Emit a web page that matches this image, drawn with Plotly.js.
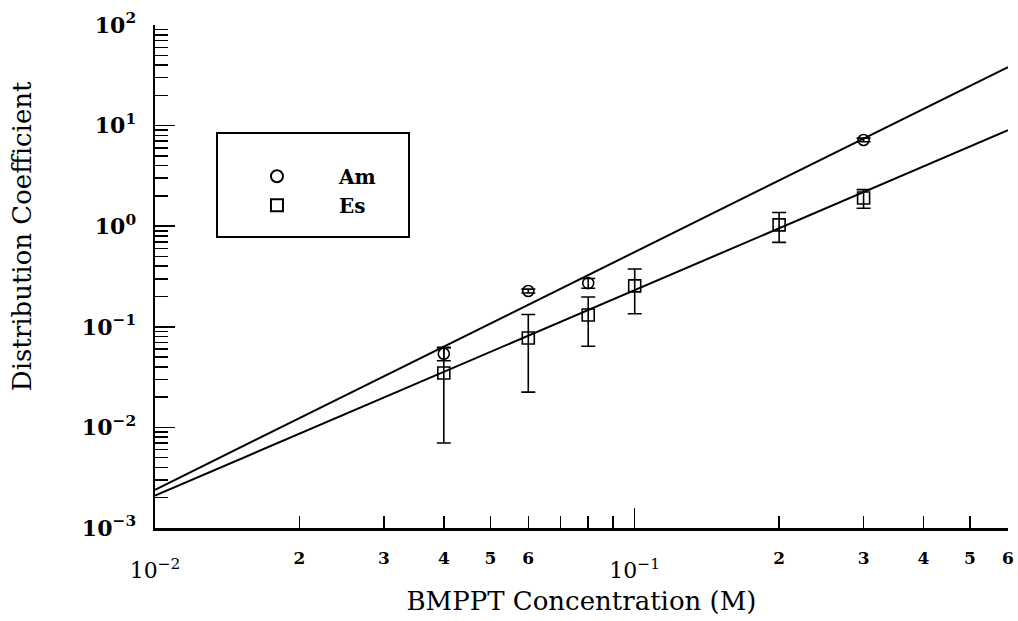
<!DOCTYPE html>
<html>
<head>
<meta charset="utf-8">
<script src="https://cdn.plot.ly/plotly-3.0.1.min.js"></script>
<style>html,body{margin:0;padding:0;background:#fff;}#chart{width:1018px;height:621px;}</style>
</head>
<body>
<div id="chart"></div>
<script>
// ---- data ----
const amX = [0.04, 0.06, 0.08, 0.3];
const amY = [0.054, 0.227, 0.272, 7.2];
const amErr = [0.008, 0.01, 0.03, 0.3];

const esX = [0.04, 0.06, 0.08, 0.1, 0.2, 0.3];
const esY = [0.0347, 0.0774, 0.131, 0.255, 1.03, 1.91];
const esErr = [0.0277, 0.055, 0.067, 0.12, 0.34, 0.4];

const fitX = [0.01, 0.6];
const amFit = [0.0024, 38.2];
const esFit = [0.0021, 9.0];

const xMinorLabelVals = [0.02, 0.03, 0.04, 0.05, 0.06, 0.2, 0.3, 0.4, 0.5, 0.6];
const xMinorLabelText = ['2', '3', '4', '5', '6', '2', '3', '4', '5', '6'];
const xMinorTickVals = [0.07, 0.08, 0.09];
const xDecadeVals = [0.01, 0.1];
const xDecadeText = ['10<sup>\u22122</sup>', '10<sup>\u22121</sup>'];
const yDecadeVals = [1e-3, 1e-2, 1e-1, 1, 10, 100];
const yDecadeText = ['10<sup>\u22123</sup>', '10<sup>\u22122</sup>', '10<sup>\u22121</sup>', '10<sup>0</sup>', '10<sup>1</sup>', '10<sup>2</sup>'];
const yMinorVals = [];
[1e-3, 1e-2, 1e-1, 1, 10].forEach(d => { for (let k = 2; k <= 9; k++) yMinorVals.push(+(d * k).toPrecision(3)); });

const xTitle = 'BMPPT Concentration (M)';
const yTitle = 'Distribution Coefficient';

const FONT = 'DejaVu Serif';

const traces = [
  {
    x: fitX, y: amFit, xaxis: 'x2', yaxis: 'y', mode: 'lines', showlegend: false,
    line: {color: '#000', width: 2}, hoverinfo: 'skip'
  },
  {
    x: fitX, y: esFit, xaxis: 'x2', yaxis: 'y', mode: 'lines', showlegend: false,
    line: {color: '#000', width: 2}, hoverinfo: 'skip'
  },
  {
    x: amX, y: amY, name: 'Am', mode: 'markers',
    marker: {symbol: 'circle-open', size: 11, color: '#000', line: {width: 1.6, color: '#000'}},
    error_y: {type: 'data', array: amErr, visible: true, color: '#000', thickness: 1.6, width: 7}
  },
  {
    x: esX, y: esY, name: 'Es', mode: 'markers',
    marker: {symbol: 'square-open', size: 12, color: '#000', line: {width: 1.6, color: '#000'}},
    error_y: {type: 'data', array: esErr, visible: true, color: '#000', thickness: 1.6, width: 7}
  }
];

const layout = {
  width: 1018, height: 621,
  margin: {l: 155, r: 10, t: 25, b: 93},
  paper_bgcolor: '#fff', plot_bgcolor: '#fff',
  showlegend: true,
  legend: {
    x: 0.0703, y: 0.738, xanchor: 'left', yanchor: 'top',
    bgcolor: 'rgba(0,0,0,0)', borderwidth: 0,
    itemwidth: 114, tracegroupgap: 0, itemsizing: 'constant',
    font: {family: FONT, size: 20, color: '#000', weight: 'bold'}
  },
  xaxis: {
    type: 'log', range: [Math.log10(0.01), Math.log10(0.6)],
    showline: true, linecolor: '#000', linewidth: 2.5, mirror: false,
    showgrid: false, zeroline: false,
    tickmode: 'array', tickvals: xMinorLabelVals, ticktext: xMinorLabelText,
    ticks: 'inside', ticklen: 12, tickwidth: 1.5, tickcolor: '#000',
    ticklabelstandoff: 13,
    tickfont: {family: FONT, size: 17, color: '#000', weight: 'bold'},
    minor: {tickmode: 'array', tickvals: xMinorTickVals, ticks: 'inside', ticklen: 12, tickwidth: 1.5, tickcolor: '#000', showgrid: false},
    title: {text: xTitle, font: {family: FONT, size: 26, color: '#000'}, standoff: 25}
  },
  xaxis2: {
    type: 'log', range: [Math.log10(0.01), Math.log10(0.6)],
    overlaying: 'x', anchor: 'y', side: 'bottom',
    showline: false, showgrid: false, zeroline: false,
    tickmode: 'array', tickvals: xDecadeVals, ticktext: xDecadeText,
    ticks: 'inside', ticklen: 20, tickwidth: 1.5, tickcolor: '#000',
    ticklabelstandoff: 27,
    tickfont: {family: FONT, size: 22, color: '#000'}
  },
  yaxis: {
    type: 'log', range: [-3, 2],
    showline: true, linecolor: '#000', linewidth: 2.5, mirror: false,
    showgrid: false, zeroline: false,
    tickmode: 'array', tickvals: yDecadeVals, ticktext: yDecadeText,
    ticks: 'inside', ticklen: 20, tickwidth: 1.5, tickcolor: '#000',
    ticklabelstandoff: 12,
    tickfont: {family: FONT, size: 22, color: '#000', weight: 'bold'},
    minor: {tickmode: 'array', tickvals: yMinorVals, ticks: 'inside', ticklen: 13, tickwidth: 1.5, tickcolor: '#000', showgrid: false}
  },
  annotations: [
    {text: yTitle, xref: 'paper', yref: 'paper', x: -0.156, y: 0.580, xanchor: 'center', yanchor: 'middle',
     textangle: -90, showarrow: false, font: {family: FONT, size: 26, color: '#000'}}
  ],
  shapes: [
    {type: 'rect', xref: 'paper', yref: 'paper', x0: 0.0727, x1: 0.2978, y0: 0.5785, y1: 0.7853,
     line: {color: '#000', width: 2}, fillcolor: 'rgba(0,0,0,0)', layer: 'below'}
  ]
};

Plotly.newPlot('chart', traces, layout, {displayModeBar: false, staticPlot: true});
</script>
</body>
</html>
